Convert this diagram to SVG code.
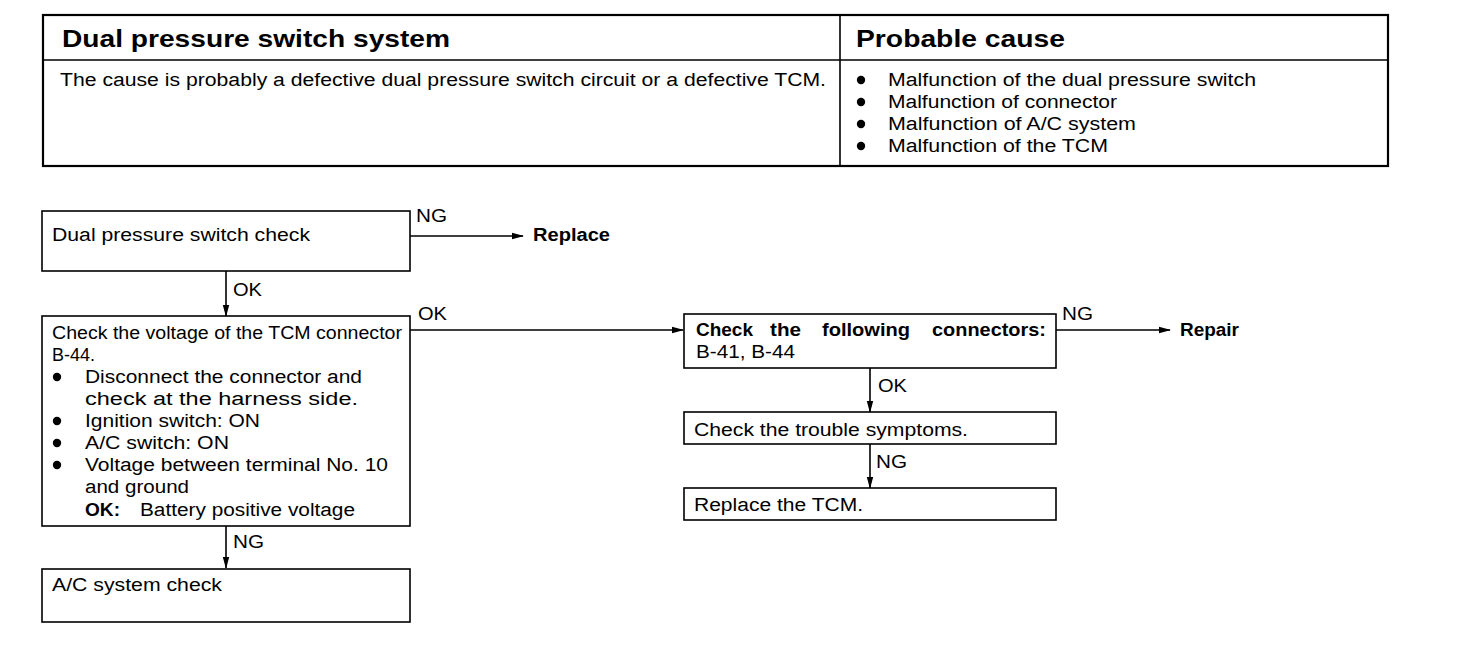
<svg xmlns="http://www.w3.org/2000/svg" width="1472" height="660" viewBox="0 0 1472 660">
<style>
text{font-family:"Liberation Sans",Arial,sans-serif;fill:#000;font-size:18px}
.h{font-size:24px;font-weight:bold}
.b{font-weight:bold}
.lb{font-size:19px}
.box{fill:#fff;stroke:#000;stroke-width:1.6}
.tb{fill:none;stroke:#000;stroke-width:2.2}
.ln{stroke:#000;stroke-width:1.6;fill:none}
.c{stroke:#000;stroke-width:1.6;fill:none;marker-end:url(#ah)}
</style>
<defs>
<marker id="ah" markerWidth="12" markerHeight="8" refX="11" refY="4" orient="auto" markerUnits="userSpaceOnUse">
<path d="M0,0.8 L12,4 L0,7.2 Z" fill="#000"/>
</marker>
</defs>
<rect width="1472" height="660" fill="#fff"/>
<g id="table">
<rect class="tb" x="43" y="15" width="1345" height="151"/>
<line class="ln" x1="43" y1="60" x2="1388" y2="60"/>
<line class="ln" x1="840" y1="15" x2="840" y2="166"/>
<text class="h" x="62" y="47" textLength="388" lengthAdjust="spacingAndGlyphs">Dual pressure switch system</text>
<text class="h" x="856" y="47" textLength="209" lengthAdjust="spacingAndGlyphs">Probable cause</text>
<text x="60" y="86" textLength="766" lengthAdjust="spacingAndGlyphs">The cause is probably a defective dual pressure switch circuit or a defective TCM.</text>
<circle cx="861" cy="80" r="4.2"/><text x="888" y="86" textLength="368" lengthAdjust="spacingAndGlyphs">Malfunction of the dual pressure switch</text>
<circle cx="861" cy="102" r="4.2"/><text x="888" y="108" textLength="229" lengthAdjust="spacingAndGlyphs">Malfunction of connector</text>
<circle cx="861" cy="124" r="4.2"/><text x="888" y="130" textLength="248" lengthAdjust="spacingAndGlyphs">Malfunction of A/C system</text>
<circle cx="861" cy="146" r="4.2"/><text x="888" y="152" textLength="220" lengthAdjust="spacingAndGlyphs">Malfunction of the TCM</text>
</g>
<g id="connectors">
<line class="c" x1="410" y1="236" x2="523" y2="236"/>
<text class="lb" x="416" y="222" textLength="31" lengthAdjust="spacingAndGlyphs">NG</text>
<text class="b" x="533" y="241" textLength="77" lengthAdjust="spacingAndGlyphs">Replace</text>
<line class="c" x1="226" y1="271" x2="226" y2="316"/>
<text class="lb" x="233" y="296" textLength="29" lengthAdjust="spacingAndGlyphs">OK</text>
<line class="c" x1="410" y1="330" x2="683" y2="330"/>
<text class="lb" x="418" y="320" textLength="29" lengthAdjust="spacingAndGlyphs">OK</text>
<line class="c" x1="226" y1="526" x2="226" y2="568"/>
<text class="lb" x="233" y="548" textLength="31" lengthAdjust="spacingAndGlyphs">NG</text>
<line class="c" x1="1056" y1="330" x2="1170" y2="330"/>
<text class="lb" x="1062" y="320" textLength="31" lengthAdjust="spacingAndGlyphs">NG</text>
<text class="b" x="1180" y="336" textLength="59" lengthAdjust="spacingAndGlyphs">Repair</text>
<line class="c" x1="870" y1="368" x2="870" y2="412"/>
<text class="lb" x="878" y="392" textLength="29" lengthAdjust="spacingAndGlyphs">OK</text>
<line class="c" x1="870" y1="444" x2="870" y2="488"/>
<text class="lb" x="876" y="468" textLength="31" lengthAdjust="spacingAndGlyphs">NG</text>
</g>
<g id="n1">
<rect class="box" x="42" y="211" width="368" height="60"/>
<text x="52" y="241" textLength="258" lengthAdjust="spacingAndGlyphs">Dual pressure switch check</text>
</g>
<g id="n2">
<rect class="box" x="42" y="316" width="368" height="210"/>
<text x="52" y="339" textLength="350" lengthAdjust="spacingAndGlyphs">Check the voltage of the TCM connector</text>
<text x="52" y="361" textLength="43" lengthAdjust="spacingAndGlyphs">B-44.</text>
<circle cx="57" cy="377" r="4.2"/><text x="85" y="383" textLength="277" lengthAdjust="spacingAndGlyphs">Disconnect the connector and</text>
<text x="85" y="405" textLength="273" lengthAdjust="spacingAndGlyphs">check at the harness side.</text>
<circle cx="57" cy="421" r="4.2"/><text x="85" y="427" textLength="175" lengthAdjust="spacingAndGlyphs">Ignition switch: ON</text>
<circle cx="57" cy="443" r="4.2"/><text x="85" y="449" textLength="144" lengthAdjust="spacingAndGlyphs">A/C switch: ON</text>
<circle cx="57" cy="465" r="4.2"/><text x="85" y="471" textLength="303" lengthAdjust="spacingAndGlyphs">Voltage between terminal No. 10</text>
<text x="85" y="493" textLength="104" lengthAdjust="spacingAndGlyphs">and ground</text>
<text class="b" x="85" y="516" textLength="35" lengthAdjust="spacingAndGlyphs">OK:</text>
<text x="140" y="516" textLength="215" lengthAdjust="spacingAndGlyphs">Battery positive voltage</text>
</g>
<g id="n3">
<rect class="box" x="42" y="569" width="368" height="53"/>
<text x="52" y="591" textLength="170" lengthAdjust="spacingAndGlyphs">A/C system check</text>
</g>
<g id="n4">
<rect class="box" x="684" y="314" width="372" height="54"/>
<text class="b" x="696" y="336" textLength="57" lengthAdjust="spacingAndGlyphs">Check</text>
<text class="b" x="770" y="336" textLength="31" lengthAdjust="spacingAndGlyphs">the</text>
<text class="b" x="822" y="336" textLength="88" lengthAdjust="spacingAndGlyphs">following</text>
<text class="b" x="932" y="336" textLength="114" lengthAdjust="spacingAndGlyphs">connectors:</text>
<text x="696" y="358" textLength="99" lengthAdjust="spacingAndGlyphs">B-41, B-44</text>
</g>
<g id="n5">
<rect class="box" x="684" y="412" width="372" height="32"/>
<text x="694" y="436" textLength="274" lengthAdjust="spacingAndGlyphs">Check the trouble symptoms.</text>
</g>
<g id="n6">
<rect class="box" x="684" y="488" width="372" height="32"/>
<text x="694" y="511" textLength="169" lengthAdjust="spacingAndGlyphs">Replace the TCM.</text>
</g>
</svg>
